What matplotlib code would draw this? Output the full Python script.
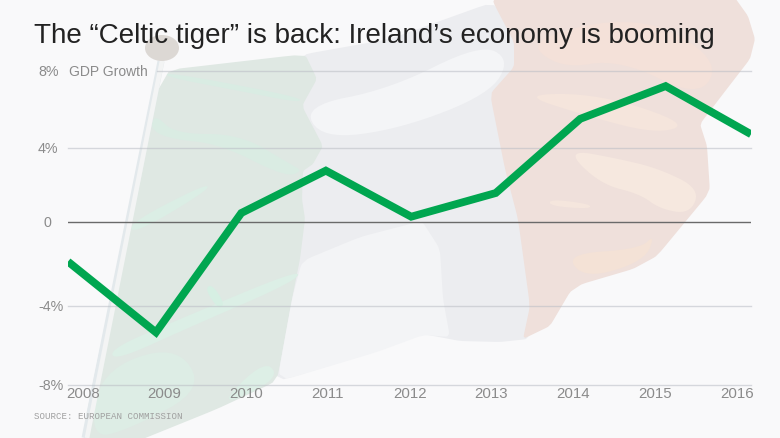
import numpy as np
import matplotlib
matplotlib.use("Agg")
import matplotlib.pyplot as plt
from matplotlib.patches import Polygon, Ellipse
from matplotlib.scale import FuncScale
from matplotlib.transforms import blended_transform_factory, IdentityTransform

# ---- data ----
years = [2008, 2009, 2010, 2011, 2012, 2013, 2014, 2015, 2016]
year_pos = [2008, 2009.03, 2010.03, 2011.02, 2012.02, 2013.01, 2014, 2015, 2016]
gdp_growth = [-1.9, -5.35, 0.47, 2.76, 0.27, 1.55, 5.5, 7.2, 4.7]
y_ticks = [8, 4, 0, -4, -8]
y_labels = ["8%", "4%", "0", "-4%", "-8%"]
title = "The \u201cCeltic tiger\u201d is back: Ireland\u2019s economy is booming"
source = "SOURCE: EUROPEAN COMMISSION"

W, H, DPI = 780, 439, 100
BG = "#f9f9fa"
plt.rcParams["font.family"] = ["Liberation Sans", "DejaVu Sans"]
fig = plt.figure(figsize=(W / DPI, H / DPI), dpi=DPI, facecolor=BG)

# ---- faded flag backdrop (pixel space) ----
bg = fig.add_axes([0, 0, 1, 1], zorder=0)
bg.set_xlim(0, W); bg.set_ylim(H, 0); bg.axis("off")

def soften(pts, n=3, t=0.25):
    p = np.asarray(pts, float)
    for _ in range(n):
        q = np.roll(p, -1, axis=0)
        p = np.column_stack([(1 - t) * p + t * q, t * p + (1 - t) * q]).reshape(-1, 2)
    return p

def poly(pts, c, z=1, smooth=3, t=0.25):
    bg.add_patch(Polygon(soften(pts, smooth, t) if smooth else pts, closed=True, fc=c, ec="none", zorder=z))

green = [(158, 72), (305, 55), (317, 80), (302, 107), (323, 147), (313, 165), (303, 172), (302, 200),
         (305, 220), (300, 260), (292, 300), (277, 382), (217, 410), (128, 446), (80, 446)]
white = [(300, 56), (390, 40), (493, 3), (518, 43), (518, 68), (496, 95), (510, 170), (524, 220), (534, 307),
         (528, 340), (500, 343), (460, 342), (423, 335), (377, 352), (276, 383), (270, 300), (280, 260),
         (285, 220), (290, 172), (295, 107)]
orange = [(493, 3), (497, -4), (733, -4), (748, 17), (755, 40), (750, 60), (723, 95), (700, 125), (707, 147),
          (710, 193), (657, 257), (633, 270), (582, 285), (570, 293), (550, 327), (523, 340), (530, 307),
          (518, 220), (505, 170), (490, 95), (514, 68), (514, 43)]
poly(white, "#ecedf0", smooth=2, t=0.08)
poly(green, "#dfe8e3", smooth=2, t=0.08)
poly(orange, "#efe0db", smooth=2, t=0.08)

# green folds
poly([(168, 73), (300, 98), (300, 104), (240, 92), (166, 78)], "#d9ece3", 2)
poly([(155, 115), (175, 135), (240, 135), (290, 165), (303, 172), (285, 178), (220, 145), (170, 140), (150, 130)], "#daece3", 2)
poly([(128, 225), (205, 185), (210, 190), (135, 235)], "#dbeee5", 2)
poly([(110, 350), (180, 320), (300, 270), (296, 282), (190, 328), (115, 362)], "#dcefe6", 2)
poly([(205, 290), (212, 285), (225, 305), (218, 310)], "#d6efe3", 2)
poly([(100, 372), (175, 345), (205, 390), (130, 430), (90, 440)], "#ddede5", 2)
poly([(215, 410), (265, 360), (280, 380)], "#ddefe6", 2)
# white folds
poly([(303, 107), (390, 90), (480, 45), (510, 60), (490, 95), (400, 130), (322, 140)], "#f4f5f7", 2)
poly([(302, 262), (360, 238), (410, 225), (422, 222), (440, 250), (443, 300), (450, 338), (423, 336),
      (377, 353), (277, 383), (292, 300)], "#f3f4f6", 2, t=0.1)
# orange folds
poly([(525, 40), (640, 15), (720, 60), (700, 100), (620, 60), (560, 70)], "#f4e1d9", 2)
poly([(520, 95), (600, 95), (690, 125), (655, 135), (580, 115)], "#f5e5dc", 2)
poly([(565, 150), (620, 160), (660, 170), (700, 190), (690, 215), (660, 210), (640, 195), (600, 185)], "#f6e8df", 2)
poly([(550, 200), (590, 205), (590, 210), (550, 207)], "#f5e6dd", 2, smooth=2)
poly([(565, 255), (640, 250), (655, 235), (645, 262), (585, 280)], "#f4e2d6", 2)

# flag pole and finial
bg.plot([161, 85], [62, 439], color="#e3e9ec", lw=5.0, solid_capstyle="butt", zorder=3)
bg.plot([162, 87], [62, 439], color="#f3f4f4", lw=3.4, solid_capstyle="butt", zorder=3)
bg.add_patch(Ellipse((162, 49), 34, 26, fc="#dcd8d4", ec="none", zorder=4))

# ---- chart axes (x 68-751 px, y 71-385 px) ----
ax = fig.add_axes([68 / W, 1 - 385.7 / H, (751 - 68) / W, (385 - 71) / H], zorder=1)
ax.patch.set_alpha(0)
tick_px = [-163, -84, 0, 74, 151]
sorted_ticks = sorted(y_ticks)
ax.set_yscale(FuncScale(ax.yaxis, (lambda v: np.interp(v, sorted_ticks, tick_px),
                                   lambda p: np.interp(p, tick_px, sorted_ticks))))
ax.set_xlim(years[0], years[-1])
ax.set_ylim(-8, 8)
for s in ax.spines.values():
    s.set_visible(False)
ax.set_xticks([]); ax.set_yticks([])

for v in y_ticks:
    if v == 0:
        ax.axhline(v, color="#6a6a6a", lw=1.0, zorder=3)
    elif v == 8:
        ax.axhline(v, xmin=(157 - 68) / (751 - 68), color="#b9bcc4", alpha=0.55, lw=1.0, clip_on=False, zorder=2)
    else:
        ax.axhline(v, color="#b9bcc4", alpha=0.55, lw=1.0, clip_on=False, zorder=2)

ax.plot(year_pos, gdp_growth, color="#00a650", lw=5.6, solid_joinstyle="miter",
        solid_capstyle="butt", zorder=4)

# ---- text ----
GRAY = "#8b8b8b"
ytrans = blended_transform_factory(IdentityTransform(), ax.transData)
for v, lab in zip(y_ticks, y_labels):
    fig.text(43 if v == 0 else 38, v, lab, transform=ytrans, ha="left", va="center",
             fontsize=10.3, color=GRAY, zorder=5)
ax.text(69, 8, "GDP Growth", transform=ytrans, ha="left", va="center", fontsize=10.0, color=GRAY, clip_on=False)

for i, y in enumerate(years):
    fig.text((66 + i * 81.75) / W, 1 - 394.5 / H, str(y), ha="left", va="center", fontsize=10.8, color=GRAY)

fig.text(34 / W, 1 - 36 / H, title, ha="left", va="center", fontsize=19.95, color="#222222")
fig.text(34 / W, 1 - 417 / H, source, ha="left", va="center", fontsize=6.55, color="#a0a0a0", family="Liberation Mono")

fig.savefig("out.png", dpi=DPI, facecolor=BG)
